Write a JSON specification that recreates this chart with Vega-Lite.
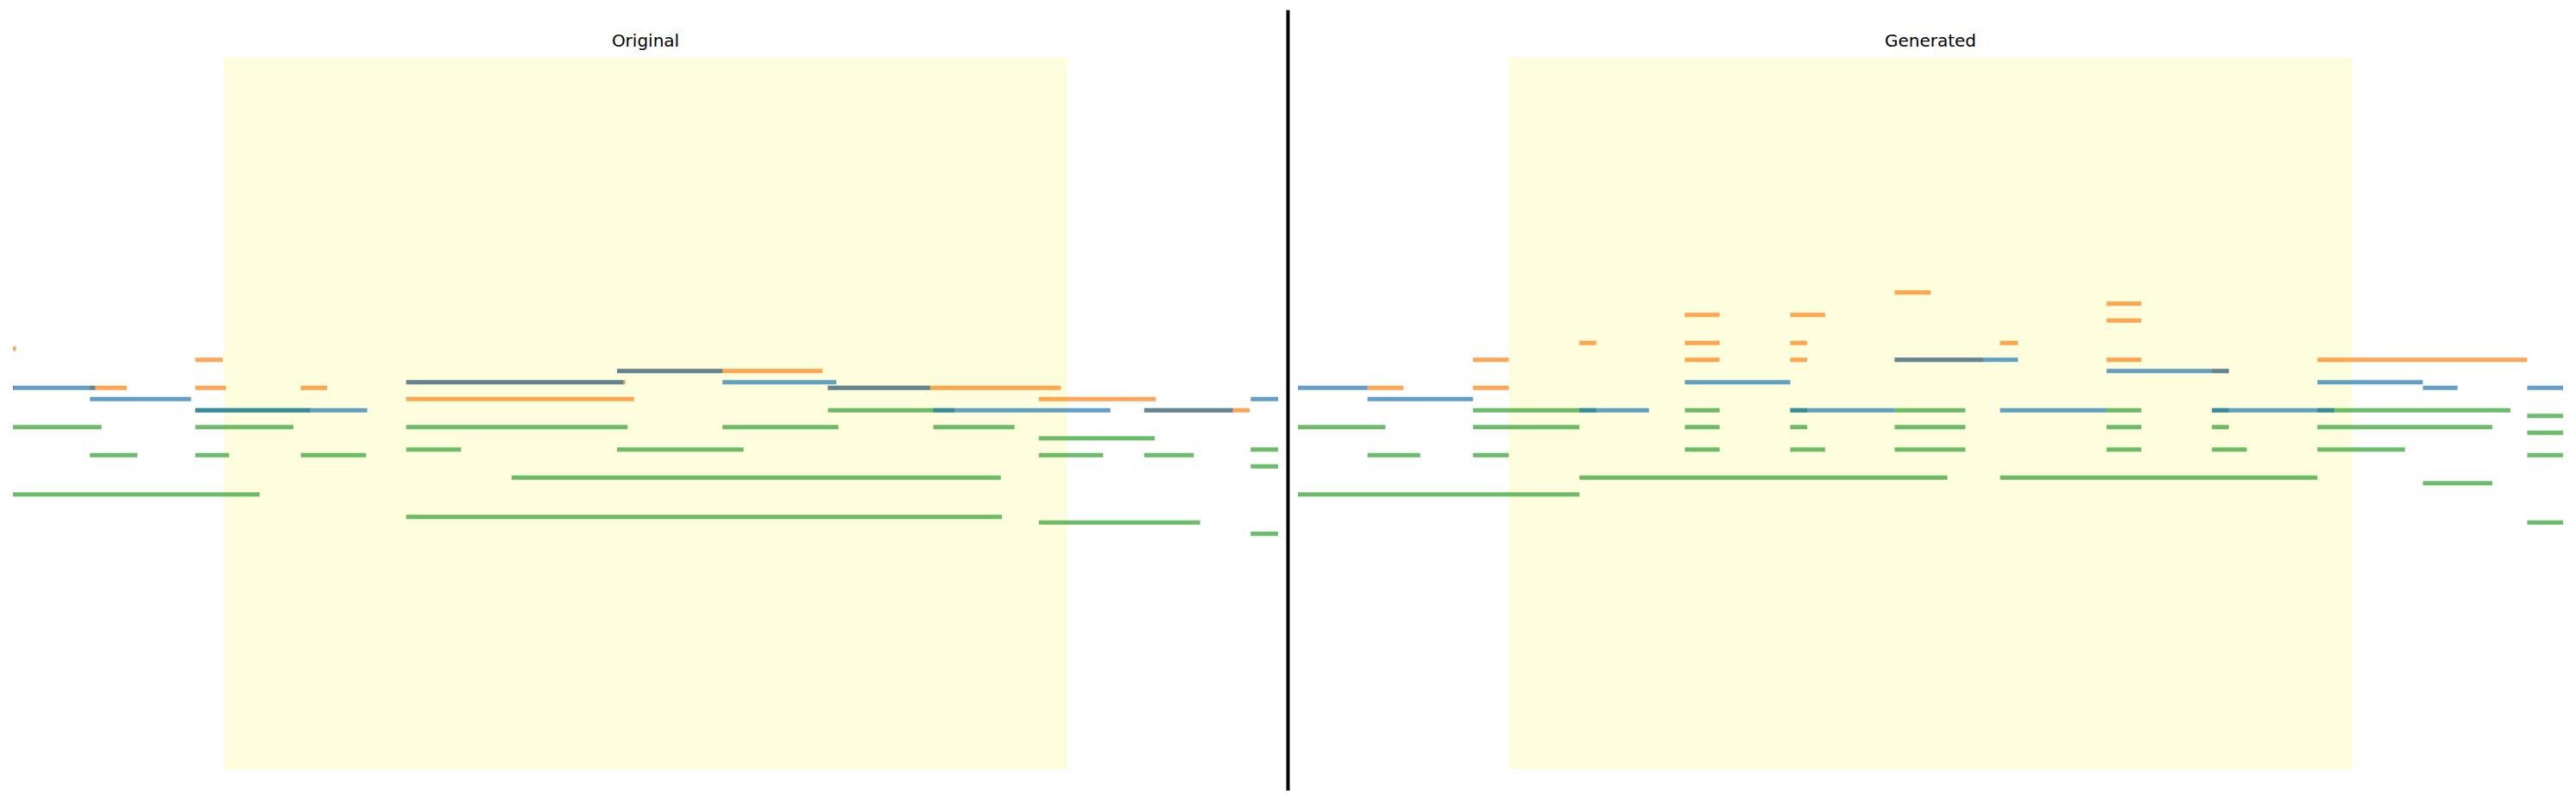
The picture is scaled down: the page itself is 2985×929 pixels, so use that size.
{
  "$schema": "https://vega.github.io/schema/vega-lite/v6.json",
  "background": "white",
  "padding": {"left": 15, "right": 15, "top": 9, "bottom": 10},
  "spacing": 0,
  "bounds": "flush",
  "resolve": {"scale": {"x": "independent", "y": "independent", "color": "independent"}},
  "config": {
    "view": {"stroke": null},
    "title": {"font": "DejaVu Sans", "fontSize": 20, "fontWeight": "normal", "color": "black", "anchor": "middle", "baseline": "alphabetic", "offset": 8}
  },
  "datasets": {
    "original": [
      {"track": "Track 2", "pitch": 75, "start": 0, "end": 0.03},
      {"track": "Track 2", "pitch": 73, "start": 1.73, "end": 1.99},
      {"track": "Track 2", "pitch": 68, "start": 0, "end": 0.01},
      {"track": "Track 2", "pitch": 68, "start": 0.73, "end": 1.08},
      {"track": "Track 2", "pitch": 68, "start": 1.73, "end": 2.02},
      {"track": "Track 2", "pitch": 68, "start": 2.73, "end": 2.98},
      {"track": "Track 2", "pitch": 69, "start": 3.73, "end": 5.81},
      {"track": "Track 2", "pitch": 66, "start": 3.73, "end": 5.89},
      {"track": "Track 2", "pitch": 71, "start": 5.73, "end": 7.68},
      {"track": "Track 2", "pitch": 68, "start": 7.73, "end": 9.94},
      {"track": "Track 2", "pitch": 66, "start": 9.73, "end": 10.84},
      {"track": "Track 2", "pitch": 64, "start": 10.73, "end": 11.73},
      {"track": "Track 3", "pitch": 61, "start": 0, "end": 0.84},
      {"track": "Track 3", "pitch": 49, "start": 0, "end": 2.34},
      {"track": "Track 3", "pitch": 56, "start": 0.73, "end": 1.18},
      {"track": "Track 3", "pitch": 64, "start": 1.73, "end": 2.82},
      {"track": "Track 3", "pitch": 61, "start": 1.73, "end": 2.66},
      {"track": "Track 3", "pitch": 56, "start": 1.73, "end": 2.05},
      {"track": "Track 3", "pitch": 56, "start": 2.73, "end": 3.35},
      {"track": "Track 3", "pitch": 61, "start": 3.73, "end": 5.83},
      {"track": "Track 3", "pitch": 57, "start": 3.73, "end": 4.25},
      {"track": "Track 3", "pitch": 45, "start": 3.73, "end": 9.38},
      {"track": "Track 3", "pitch": 52, "start": 4.73, "end": 9.37},
      {"track": "Track 3", "pitch": 57, "start": 5.73, "end": 6.93},
      {"track": "Track 3", "pitch": 61, "start": 6.73, "end": 7.83},
      {"track": "Track 3", "pitch": 64, "start": 7.73, "end": 8.93},
      {"track": "Track 3", "pitch": 61, "start": 8.73, "end": 9.5},
      {"track": "Track 3", "pitch": 59, "start": 9.73, "end": 10.83},
      {"track": "Track 3", "pitch": 56, "start": 9.73, "end": 10.34},
      {"track": "Track 3", "pitch": 44, "start": 9.73, "end": 11.26},
      {"track": "Track 3", "pitch": 56, "start": 10.73, "end": 11.2},
      {"track": "Track 3", "pitch": 57, "start": 11.74, "end": 12},
      {"track": "Track 3", "pitch": 54, "start": 11.74, "end": 12},
      {"track": "Track 3", "pitch": 42, "start": 11.74, "end": 12},
      {"track": "Track 1", "pitch": 68, "start": 0, "end": 0.78},
      {"track": "Track 1", "pitch": 66, "start": 0.73, "end": 1.69},
      {"track": "Track 1", "pitch": 64, "start": 1.73, "end": 3.36},
      {"track": "Track 1", "pitch": 69, "start": 3.73, "end": 5.79},
      {"track": "Track 1", "pitch": 71, "start": 5.73, "end": 6.73},
      {"track": "Track 1", "pitch": 69, "start": 6.73, "end": 7.81},
      {"track": "Track 1", "pitch": 68, "start": 7.73, "end": 8.7},
      {"track": "Track 1", "pitch": 64, "start": 8.73, "end": 10.41},
      {"track": "Track 1", "pitch": 64, "start": 10.73, "end": 11.57},
      {"track": "Track 1", "pitch": 66, "start": 11.74, "end": 12}
    ],
    "generated": [
      {"track": "Track 2", "pitch": 85, "start": 5.66, "end": 6.0},
      {"track": "Track 2", "pitch": 83, "start": 7.67, "end": 8.0},
      {"track": "Track 2", "pitch": 81, "start": 3.67, "end": 4.0},
      {"track": "Track 2", "pitch": 81, "start": 4.67, "end": 5.0},
      {"track": "Track 2", "pitch": 80, "start": 7.67, "end": 8.0},
      {"track": "Track 2", "pitch": 76, "start": 2.67, "end": 2.83},
      {"track": "Track 2", "pitch": 76, "start": 3.67, "end": 4.0},
      {"track": "Track 2", "pitch": 76, "start": 4.67, "end": 4.83},
      {"track": "Track 2", "pitch": 76, "start": 6.66, "end": 6.83},
      {"track": "Track 2", "pitch": 73, "start": 1.66, "end": 2.0},
      {"track": "Track 2", "pitch": 73, "start": 3.67, "end": 4.0},
      {"track": "Track 2", "pitch": 73, "start": 4.67, "end": 4.83},
      {"track": "Track 2", "pitch": 73, "start": 5.66, "end": 6.5},
      {"track": "Track 2", "pitch": 73, "start": 7.67, "end": 8.0},
      {"track": "Track 2", "pitch": 73, "start": 9.67, "end": 11.66},
      {"track": "Track 2", "pitch": 71, "start": 8.67, "end": 8.83},
      {"track": "Track 2", "pitch": 68, "start": 0.66, "end": 1.0},
      {"track": "Track 2", "pitch": 68, "start": 1.66, "end": 2.0},
      {"track": "Track 3", "pitch": 64, "start": 1.66, "end": 2.83},
      {"track": "Track 3", "pitch": 64, "start": 3.67, "end": 4.0},
      {"track": "Track 3", "pitch": 64, "start": 4.67, "end": 4.83},
      {"track": "Track 3", "pitch": 64, "start": 5.66, "end": 6.33},
      {"track": "Track 3", "pitch": 64, "start": 7.67, "end": 8.0},
      {"track": "Track 3", "pitch": 64, "start": 8.67, "end": 8.83},
      {"track": "Track 3", "pitch": 64, "start": 9.67, "end": 11.5},
      {"track": "Track 3", "pitch": 63, "start": 11.66, "end": 12},
      {"track": "Track 3", "pitch": 61, "start": 0, "end": 0.83},
      {"track": "Track 3", "pitch": 61, "start": 1.66, "end": 2.67},
      {"track": "Track 3", "pitch": 61, "start": 3.67, "end": 4.0},
      {"track": "Track 3", "pitch": 61, "start": 4.67, "end": 4.83},
      {"track": "Track 3", "pitch": 61, "start": 5.66, "end": 6.33},
      {"track": "Track 3", "pitch": 61, "start": 7.67, "end": 8.0},
      {"track": "Track 3", "pitch": 61, "start": 8.67, "end": 8.83},
      {"track": "Track 3", "pitch": 61, "start": 9.67, "end": 11.33},
      {"track": "Track 3", "pitch": 60, "start": 11.66, "end": 12},
      {"track": "Track 3", "pitch": 57, "start": 3.67, "end": 4.0},
      {"track": "Track 3", "pitch": 57, "start": 4.67, "end": 5.0},
      {"track": "Track 3", "pitch": 57, "start": 5.66, "end": 6.33},
      {"track": "Track 3", "pitch": 57, "start": 7.67, "end": 8.0},
      {"track": "Track 3", "pitch": 57, "start": 8.67, "end": 9.0},
      {"track": "Track 3", "pitch": 57, "start": 9.67, "end": 10.5},
      {"track": "Track 3", "pitch": 56, "start": 0.66, "end": 1.16},
      {"track": "Track 3", "pitch": 56, "start": 1.66, "end": 2.0},
      {"track": "Track 3", "pitch": 56, "start": 11.66, "end": 12},
      {"track": "Track 3", "pitch": 52, "start": 2.67, "end": 6.16},
      {"track": "Track 3", "pitch": 52, "start": 6.66, "end": 9.67},
      {"track": "Track 3", "pitch": 51, "start": 10.67, "end": 11.33},
      {"track": "Track 3", "pitch": 49, "start": 0, "end": 2.67},
      {"track": "Track 3", "pitch": 44, "start": 11.66, "end": 12},
      {"track": "Track 1", "pitch": 73, "start": 5.66, "end": 6.83},
      {"track": "Track 1", "pitch": 71, "start": 7.67, "end": 8.83},
      {"track": "Track 1", "pitch": 69, "start": 3.67, "end": 4.67},
      {"track": "Track 1", "pitch": 69, "start": 9.67, "end": 10.67},
      {"track": "Track 1", "pitch": 68, "start": 0, "end": 0.66},
      {"track": "Track 1", "pitch": 68, "start": 10.67, "end": 11.0},
      {"track": "Track 1", "pitch": 68, "start": 11.66, "end": 12},
      {"track": "Track 1", "pitch": 66, "start": 0.66, "end": 1.66},
      {"track": "Track 1", "pitch": 64, "start": 2.67, "end": 3.33},
      {"track": "Track 1", "pitch": 64, "start": 4.67, "end": 5.66},
      {"track": "Track 1", "pitch": 64, "start": 6.66, "end": 7.67},
      {"track": "Track 1", "pitch": 64, "start": 8.67, "end": 9.83}
    ]
  },
  "hconcat": [
    {
      "width": 1466,
      "height": 825,
      "title": "Original",
      "layer": [
        {
          "data": {"values": [{"from": 2, "to": 10}]},
          "mark": {"type": "rect", "color": "#fefedf"},
          "encoding": {
            "x": {"field": "from", "type": "quantitative", "scale": {"domain": [0, 12], "nice": false, "zero": false}, "axis": null},
            "x2": {"field": "to"}
          }
        },
        {
          "data": {"name": "original"},
          "mark": {"type": "rule", "strokeWidth": 5, "strokeCap": "butt", "opacity": 0.7, "clip": true},
          "encoding": {
            "x": {"field": "start", "type": "quantitative", "scale": {"domain": [0, 12], "nice": false, "zero": false}, "axis": null},
            "x2": {"field": "end"},
            "y": {"field": "pitch", "type": "quantitative", "scale": {"domain": [0, 127], "nice": false, "zero": false}, "axis": null},
            "color": {"field": "track", "type": "nominal", "scale": {"domain": ["Track 1", "Track 2", "Track 3"], "range": ["#1f77b4", "#ff7f0e", "#2ca02c"]}, "legend": null}
          }
        }
      ]
    },
    {
      "width": 23,
      "height": 825,
      "data": {"values": [{"pos": 0.5, "low": -0.0299, "high": 1.0658}]},
      "mark": {"type": "rule", "strokeWidth": 4, "color": "black", "strokeCap": "butt"},
      "encoding": {
        "x": {"field": "pos", "type": "quantitative", "scale": {"domain": [0, 1], "nice": false, "zero": false}, "axis": null},
        "y": {"field": "low", "type": "quantitative", "scale": {"domain": [0, 1], "nice": false, "zero": false}, "axis": null},
        "y2": {"field": "high"}
      }
    },
    {
      "width": 1466,
      "height": 825,
      "title": "Generated",
      "layer": [
        {
          "data": {"values": [{"from": 2, "to": 10}]},
          "mark": {"type": "rect", "color": "#fefedf"},
          "encoding": {
            "x": {"field": "from", "type": "quantitative", "scale": {"domain": [0, 12], "nice": false, "zero": false}, "axis": null},
            "x2": {"field": "to"}
          }
        },
        {
          "data": {"name": "generated"},
          "mark": {"type": "rule", "strokeWidth": 5, "strokeCap": "butt", "opacity": 0.7, "clip": true},
          "encoding": {
            "x": {"field": "start", "type": "quantitative", "scale": {"domain": [0, 12], "nice": false, "zero": false}, "axis": null},
            "x2": {"field": "end"},
            "y": {"field": "pitch", "type": "quantitative", "scale": {"domain": [0, 127], "nice": false, "zero": false}, "axis": null},
            "color": {"field": "track", "type": "nominal", "scale": {"domain": ["Track 1", "Track 2", "Track 3"], "range": ["#1f77b4", "#ff7f0e", "#2ca02c"]}, "legend": null}
          }
        }
      ]
    }
  ]
}
